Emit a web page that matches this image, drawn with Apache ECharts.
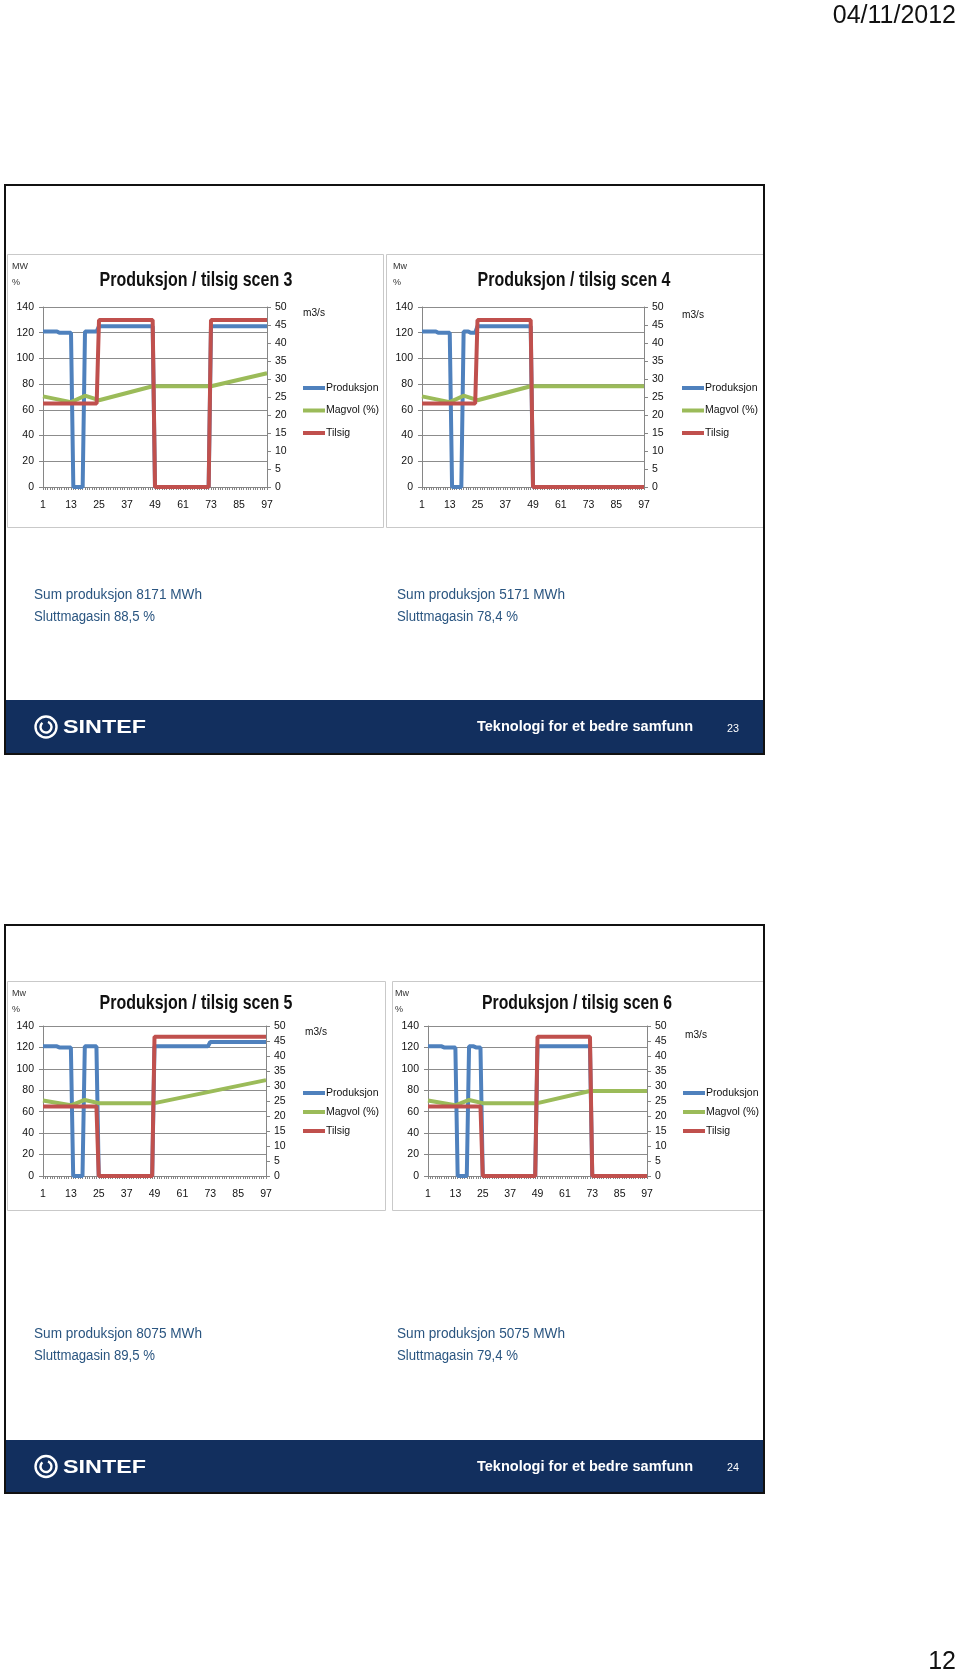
<!DOCTYPE html>
<html><head><meta charset="utf-8">
<script src="https://cdn.jsdelivr.net/npm/echarts@6/dist/echarts.min.js"></script>
<style>html,body{margin:0;padding:0;background:#fff}#c{width:960px;height:1676px}</style>
</head><body><div id="c"></div>
<script>
// ---------- DATA ----------
const categories = ['1','2','3','4','5','6','7','8','9','10','11','12','13','14','15','16','17','18','19','20',
'21','22','23','24','25','26','27','28','29','30','31','32','33','34','35','36','37','38','39','40',
'41','42','43','44','45','46','47','48','49','50','51','52','53','54','55','56','57','58','59','60',
'61','62','63','64','65','66','67','68','69','70','71','72','73','74','75','76','77','78','79','80',
'81','82','83','84','85','86','87','88','89','90','91','92','93','94','95','96','97'];
const seriesNames = ['Produksjon', 'Magvol (%)', 'Tilsig'];
const leftTicks = {min: 0, max: 140, step: 20};
const rightTicks = {min: 0, max: 50, step: 5};
const chartTitles = ['Produksjon / tilsig scen 3', 'Produksjon / tilsig scen 4', 'Produksjon / tilsig scen 5', 'Produksjon / tilsig scen 6'];
const unitLeft = ['MW', 'Mw', 'Mw', 'Mw'];
const summaryProd = ['Sum produksjon 8171 MWh', 'Sum produksjon 5171 MWh', 'Sum produksjon 8075 MWh', 'Sum produksjon 5075 MWh'];
const summaryMag = ['Sluttmagasin 88,5 %', 'Sluttmagasin 78,4 %', 'Sluttmagasin 89,5 %', 'Sluttmagasin 79,4 %'];
const pageNumbers = ['23', '24'];

// breakpoints [hour, value]; the library draws the straight segments between them
const prod3 = [['1',121],['7',121],['8',120],['13',120],['14',0],['18',0],['19',121],['24',121],['25',125],['48',125],['49',0],['72',0],['73',125],['97',125]];
const mag3  = [['1',70.5],['13',66],['19',71],['25',67.5],['48',78.4],['73',78.4],['97',88.5]];
const tils3 = [['1',23.2],['24',23.2],['25',46.4],['48',46.4],['49',0],['72',0],['73',46.4],['97',46.4]];

const prod4 = [['1',121],['7',121],['8',120],['13',120],['14',0],['18',0],['19',121],['21',121],['22',120],['24',120],['25',125],['48',125],['49',0],['97',0]];
const mag4  = [['1',70.5],['13',66],['19',71],['25',67.5],['48',78.4],['97',78.4]];
const tils4 = [['1',23.2],['24',23.2],['25',46.4],['48',46.4],['49',0],['97',0]];

const prod5 = [['1',121],['7',121],['8',120],['13',120],['14',0],['18',0],['19',121],['24',121],['25',0],['48',0],['49',121],['72',121],['73',125],['97',125]];
const mag5  = [['1',70.5],['13',66],['19',71],['25',68],['49',68],['97',89.5]];
const tils5 = [['1',23.2],['24',23.2],['25',0],['48',0],['49',46.4],['97',46.4]];

const prod6 = [['1',121],['7',121],['8',120],['13',120],['14',0],['18',0],['19',121],['21',121],['22',120],['24',120],['25',0],['48',0],['49',121],['72',121],['73',0],['97',0]];
const mag6  = [['1',70.5],['13',66],['19',71],['25',68],['49',68],['72',79.4],['97',79.4]];
const tils6 = [['1',23.2],['24',23.2],['25',0],['48',0],['49',46.4],['72',46.4],['73',0],['97',0]];

const chartData = [[prod3, mag3, tils3], [prod4, mag4, tils4], [prod5, mag5, tils5], [prod6, mag6, tils6]];

// ---------- LAYOUT / STYLE ----------
const SANS = '"Liberation Sans", Arial, sans-serif';
const colors = ['#4F81BD', '#9BBB59', '#C0504D'];
const NAVY = '#122f5e';
const TEXTBLUE = '#2a5580';
const grids = [
  {left: 43, top: 307, width: 224, height: 180},
  {left: 422, top: 307, width: 222, height: 180},
  {left: 43, top: 1026, width: 223, height: 150},
  {left: 428, top: 1026, width: 219, height: 150}
];
const panelInfo = [
  {titleX: 196, titleY: 280, titleW: 193, unitX: 12, unitY: 267, m3X: 303, m3Y: 313, legX: 303, legY: [388, 410, 433]},
  {titleX: 574, titleY: 280, titleW: 193, unitX: 393, unitY: 267, m3X: 682, m3Y: 315, legX: 682, legY: [388, 410, 433]},
  {titleX: 196, titleY: 1003, titleW: 193, unitX: 12, unitY: 994, m3X: 305, m3Y: 1032, legX: 303, legY: [1093, 1113, 1131]},
  {titleX: 577, titleY: 1003, titleW: 190, unitX: 395, unitY: 994, m3X: 685, m3Y: 1035, legX: 683, legY: [1093, 1113, 1131]}
];

const measureCtx = document.createElement('canvas').getContext('2d');
function fitScale(t, font, w) { measureCtx.font = font; return w / measureCtx.measureText(t).width; }

const chart = echarts.init(document.getElementById('c'), null, {renderer: 'canvas'});
const gridOpt = [], xAxes = [], yAxes = [], series = [], legends = [];
const axisGray = '#868686';
grids.forEach((g, i) => {
  gridOpt.push(Object.assign({containLabel: false}, g));
  xAxes.push({
    type: 'category', gridIndex: i, data: categories, boundaryGap: false,
    axisLine: {lineStyle: {color: axisGray, width: 1}},
    axisTick: {show: true, interval: 0, length: 3, lineStyle: {color: axisGray}},
    axisLabel: {interval: 11, color: '#111', fontFamily: SANS, fontSize: 10.5, margin: 13},
    splitLine: {show: false}
  });
  yAxes.push({
    type: 'value', gridIndex: i, position: 'left', min: leftTicks.min, max: leftTicks.max, interval: leftTicks.step,
    axisLine: {show: true, lineStyle: {color: axisGray}},
    axisTick: {show: true, length: 4, lineStyle: {color: axisGray}},
    axisLabel: {color: '#111', fontFamily: SANS, fontSize: 10.5, margin: 9},
    splitLine: {show: true, lineStyle: {color: '#8c8c8c', width: 1}}
  });
  yAxes.push({
    type: 'value', gridIndex: i, position: 'right', min: rightTicks.min, max: rightTicks.max, interval: rightTicks.step,
    axisLine: {show: true, lineStyle: {color: axisGray}},
    axisTick: {show: true, length: 4, lineStyle: {color: axisGray}},
    axisLabel: {color: '#111', fontFamily: SANS, fontSize: 10.5, margin: 8},
    splitLine: {show: false}
  });
  chartData[i].forEach((d, k) => {
    series.push({
      type: 'line', name: seriesNames[k], xAxisIndex: i, yAxisIndex: 2 * i + (k === 2 ? 1 : 0),
      data: d, symbol: 'none', lineStyle: {width: 4, color: colors[k]}, itemStyle: {color: colors[k]},
      z: 3 + k
    });
  });
  const p = panelInfo[i];
  const gap = (p.legY[2] - p.legY[0]) / 2 - 13;
  legends.push({
    orient: 'vertical', left: p.legX, top: p.legY[0] - 6.5, padding: 0, itemGap: gap,
    icon: 'rect', itemWidth: 22, itemHeight: 4,
    data: seriesNames, selectedMode: false,
    textStyle: {fontFamily: SANS, fontSize: 10.5, color: '#111', lineHeight: 13, padding: [0, 0, 0, -4]}
  });
});

// static slide graphics & texts
const graphic = [];
function rect(x, y, w, h, style) { graphic.push({type: 'rect', shape: {x, y, width: w, height: h}, style, z: -1, silent: true}); }
function text(x, y, t, font, color, align, width) {
  const el = {type: 'text', x, y, style: {text: t, font, fill: color, textAlign: align || 'left', textVerticalAlign: 'middle'}, z: 10, silent: true};
  if (width) { el.scaleX = fitScale(t, font, width); }
  graphic.push(el);
}
// date and page number
text(956, 16, '04/11/2012', '25px ' + SANS, '#111', 'right');
text(956, 1662, '12', '25px ' + SANS, '#111', 'right');
// slide frames
const slides = [{top: 185, bottom: 754, panelTop: 254, panelBottom: 527, panels: [[7, 383], [386, 763]], textY: [595, 617], footTop: 700},
                {top: 925, bottom: 1493, panelTop: 981, panelBottom: 1210, panels: [[7, 385], [392, 763]], textY: [1334, 1356], footTop: 1440}];
slides.forEach((s, si) => {
  rect(5, s.top, 759, s.bottom - s.top, {fill: '#fff', stroke: null});
  s.panels.forEach(pp => rect(pp[0] + 0.5, s.panelTop + 0.5, pp[1] - pp[0], s.panelBottom - s.panelTop, {fill: null, stroke: '#c9c9c9', lineWidth: 1}));
  graphic.push({type: 'rect', shape: {x: 5, y: s.footTop, width: 759, height: s.bottom - s.footTop}, style: {fill: NAVY}, z: 1, silent: true});
  graphic.push({type: 'rect', shape: {x: 5, y: s.top, width: 759, height: s.bottom - s.top}, style: {fill: null, stroke: '#111', lineWidth: 2}, z: 2, silent: true});
  const f = '14px ' + SANS;
  text(34, s.textY[0], summaryProd[si * 2], f, TEXTBLUE, 'left', 168);
  text(34, s.textY[1], summaryMag[si * 2], f, TEXTBLUE, 'left', 121);
  text(397, s.textY[0], summaryProd[si * 2 + 1], f, TEXTBLUE, 'left', 168);
  text(397, s.textY[1], summaryMag[si * 2 + 1], f, TEXTBLUE, 'left', 121);
  const fy = (s.footTop + s.bottom) / 2;
  // SINTEF logo
  graphic.push({type: 'circle', shape: {cx: 46, cy: fy, r: 10.5}, style: {fill: null, stroke: '#fff', lineWidth: 2.4}, z: 10, silent: true});
  graphic.push({type: 'arc', shape: {cx: 46, cy: fy, r: 5.5, startAngle: -1.2, endAngle: 4.0}, style: {fill: null, stroke: '#fff', lineWidth: 2.4}, z: 10, silent: true});
  text(63, fy + 1, 'SINTEF', 'bold 19px ' + SANS, '#fff', 'left', 83);
  text(477, fy, 'Teknologi for et bedre samfunn', 'bold 15px ' + SANS, '#fff', 'left', 216);
  text(727, fy + 2, pageNumbers[si], '10px ' + SANS, '#fff', 'left', 12);
});
panelInfo.forEach((p, i) => {
  text(p.titleX, p.titleY, chartTitles[i], 'bold 21px ' + SANS, '#111', 'center', p.titleW);
  text(p.unitX, p.unitY, unitLeft[i], '9px ' + SANS, '#333');
  text(p.unitX, p.unitY + 16, '%', '9px ' + SANS, '#333');
  text(p.m3X, p.m3Y, 'm3/s', '11px ' + SANS, '#111', 'left', 22);
});

chart.setOption({
  animation: false,
  backgroundColor: '#fff',
  grid: gridOpt, xAxis: xAxes, yAxis: yAxes, series, legend: legends, graphic
});
</script></body></html>
